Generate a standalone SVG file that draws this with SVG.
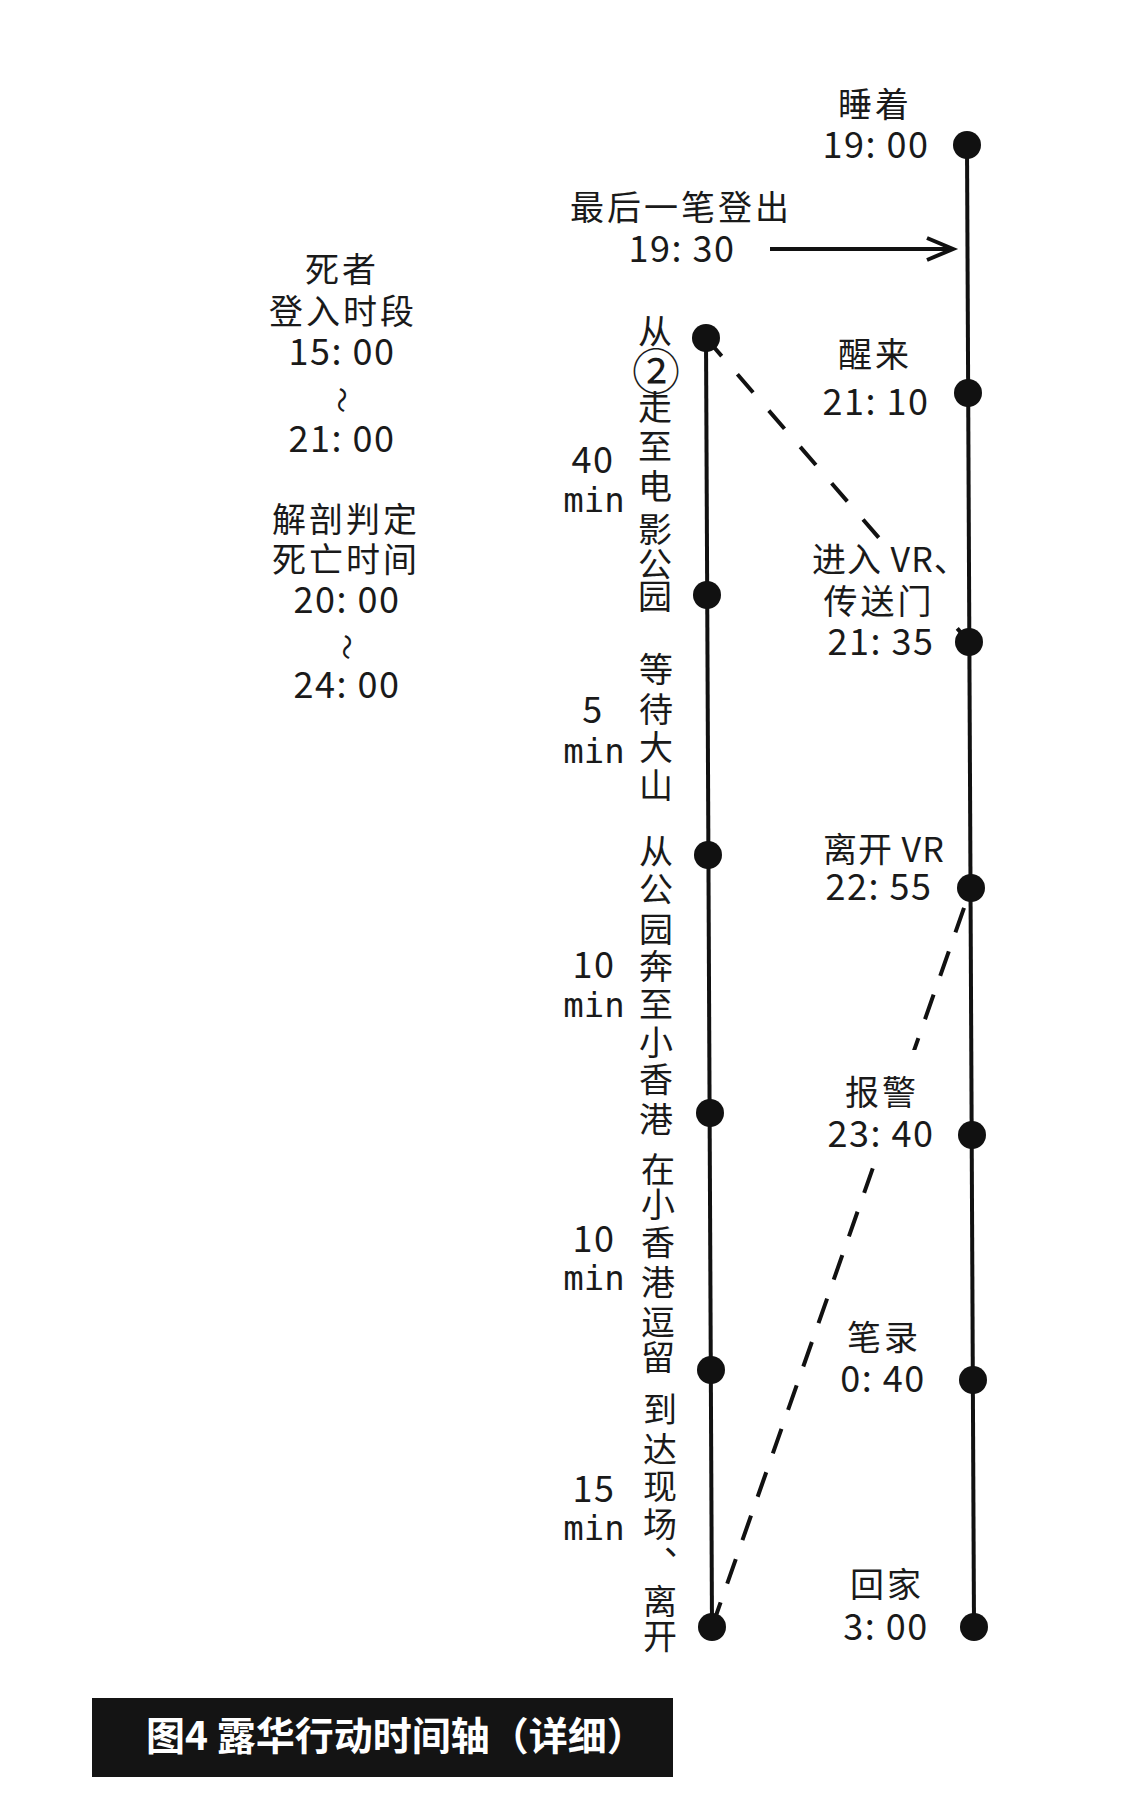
<svg xmlns="http://www.w3.org/2000/svg" width="1124" height="1819" viewBox="0 0 1124 1819">
<style>
.cjk{font-family:"Noto Sans CJK SC","Noto Sans CJK JP",sans-serif;font-size:34px;fill:#1a1a1a;letter-spacing:3px}
.num{font-family:"Noto Sans CJK SC","Noto Sans",sans-serif;font-size:36px;fill:#1a1a1a;letter-spacing:1.5px}
.mono{font-family:"DejaVu Sans Mono",monospace;font-size:34px;fill:#1a1a1a}
.vt{font-family:"Noto Sans CJK SC","Noto Sans CJK JP",sans-serif;font-size:34px;fill:#1a1a1a}
.wave{font-family:"Noto Sans CJK SC","Noto Sans CJK JP",sans-serif;font-size:26px;fill:#1a1a1a;text-anchor:middle}
.mid{text-anchor:middle}
.axis{stroke:#111;stroke-width:4;fill:none}
.dash{stroke:#111;stroke-width:4;fill:none}
.dot{fill:#111}
.mask{fill:#fff}
.cap{font-family:"Noto Sans CJK SC",sans-serif;font-size:39px;font-weight:bold;fill:#fff}
</style>
<rect width="1124" height="1819" fill="#fff"/>
<g id="connectors">
<line class="axis" x1="967" y1="145" x2="974" y2="1627"/>
<line class="axis" x1="706" y1="338" x2="712" y2="1627"/>
<line class="dash" x1="706" y1="338" x2="969" y2="642" stroke-dasharray="24 24"/>
<line class="dash" x1="712" y1="1627" x2="971" y2="888" stroke-dasharray="26 20"/>
<line class="axis" x1="770" y1="249" x2="951" y2="249" stroke-width="4.5"/>
<polyline class="axis" points="927,238 953,249 927,260" stroke-width="4.5" stroke-linejoin="miter"/>
</g>
<g id="dots-right">
<circle class="dot" cx="967" cy="145" r="14"/>
<circle class="dot" cx="968" cy="393" r="14"/>
<circle class="dot" cx="969" cy="642" r="14"/>
<circle class="dot" cx="971" cy="888" r="14"/>
<circle class="dot" cx="972" cy="1135" r="14"/>
<circle class="dot" cx="973" cy="1380" r="14"/>
<circle class="dot" cx="974" cy="1627" r="14"/>
</g>
<g id="dots-mid">
<circle class="dot" cx="706" cy="338" r="14"/>
<circle class="dot" cx="707" cy="595" r="14"/>
<circle class="dot" cx="708" cy="855" r="14"/>
<circle class="dot" cx="710" cy="1113" r="14"/>
<circle class="dot" cx="711" cy="1370" r="14"/>
<circle class="dot" cx="712" cy="1627" r="14"/>
</g>
<g id="n-sleep"><text class="cjk mid" x="875" y="117">睡着</text><text class="num mid" x="876" y="158">19: 00</text></g>
<g id="n-logout"><text class="cjk mid" x="681" y="220">最后一笔登出</text><text class="num mid" x="682" y="262">19: 30</text></g>
<g id="n-wake"><text class="cjk mid" x="875" y="367">醒来</text><text class="num mid" x="876" y="415">21: 10</text></g>
<g id="n-vr-in"><rect class="mask" x="805" y="540" width="146" height="122"/><text class="cjk" x="812" y="572" style="letter-spacing:1px">进入 VR、</text><text class="cjk mid" x="879" y="614">传送门</text><text class="num mid" x="881" y="655">21: 35</text></g>
<g id="n-vr-out"><text class="cjk" x="823" y="862" style="letter-spacing:1px">离开 VR</text><text class="num mid" x="879" y="900">22: 55</text></g>
<g id="n-report"><rect class="mask" x="830" y="1050" width="110" height="115"/><text class="cjk mid" x="882" y="1105">报警</text><text class="num mid" x="881" y="1147">23: 40</text></g>
<g id="n-statement"><text class="cjk mid" x="884" y="1350">笔录</text><text class="num mid" x="883" y="1392">0: 40</text></g>
<g id="n-home"><text class="cjk mid" x="887" y="1597">回家</text><text class="num mid" x="886" y="1640">3: 00</text></g>
<g id="n-left">
<text class="cjk mid" x="342" y="282">死者</text>
<text class="cjk mid" x="343" y="324">登入时段</text>
<text class="num mid" x="342" y="365">15: 00</text>
<text class="wave" x="0" y="9" transform="translate(341,400) rotate(90)">〜</text>
<text class="num mid" x="342" y="452">21: 00</text>
<text class="cjk mid" x="346" y="532">解剖判定</text>
<text class="cjk mid" x="346" y="572">死亡时间</text>
<text class="num mid" x="347" y="613">20: 00</text>
<text class="wave" x="0" y="9" transform="translate(346,647) rotate(90)">〜</text>
<text class="num mid" x="347" y="698">24: 00</text>
</g>
<g id="n-seg1"><text class="num mid" x="593" y="473">40</text><text class="mono mid" x="594" y="512">min</text>
<text class="vt mid" x="655" y="344">从</text>
<text class="vt mid" x="656" y="389" style="font-size:48px">②</text>
<text class="vt mid" x="655 655 655 655 655 655" y="420 459 499 542 577 609">走至电影公园</text></g>
<g id="n-seg2"><text class="num mid" x="593" y="723">5</text><text class="mono mid" x="594" y="763">min</text>
<text class="vt mid" x="656 656 656 656" y="682 722 760 798">等待大山</text></g>
<g id="n-seg3"><text class="num mid" x="594" y="978">10</text><text class="mono mid" x="594" y="1017">min</text>
<text class="vt mid" x="656 656 656 656 656 656 656 656" y="864 902 942 979 1017 1055 1092 1132">从公园奔至小香港</text></g>
<g id="n-seg4"><text class="num mid" x="594" y="1252">10</text><text class="mono mid" x="594" y="1290">min</text>
<text class="vt mid" x="658 658 658 658 658 658" y="1182 1217 1255 1295 1335 1370">在小香港逗留</text></g>
<g id="n-seg5"><text class="num mid" x="594" y="1502">15</text><text class="mono mid" x="594" y="1540">min</text>
<text class="vt mid" x="660 660 660 660" y="1422 1462 1499 1537">到达现场</text>
<text class="vt" x="664" y="1555">、</text>
<text class="vt mid" x="660 660" y="1614 1649">离开</text></g>
<g id="caption"><rect x="92" y="1698" width="581" height="79" fill="#141414"/><text class="cap" x="146" y="1750">图4 露华行动时间轴（详细）</text></g>
</svg>
